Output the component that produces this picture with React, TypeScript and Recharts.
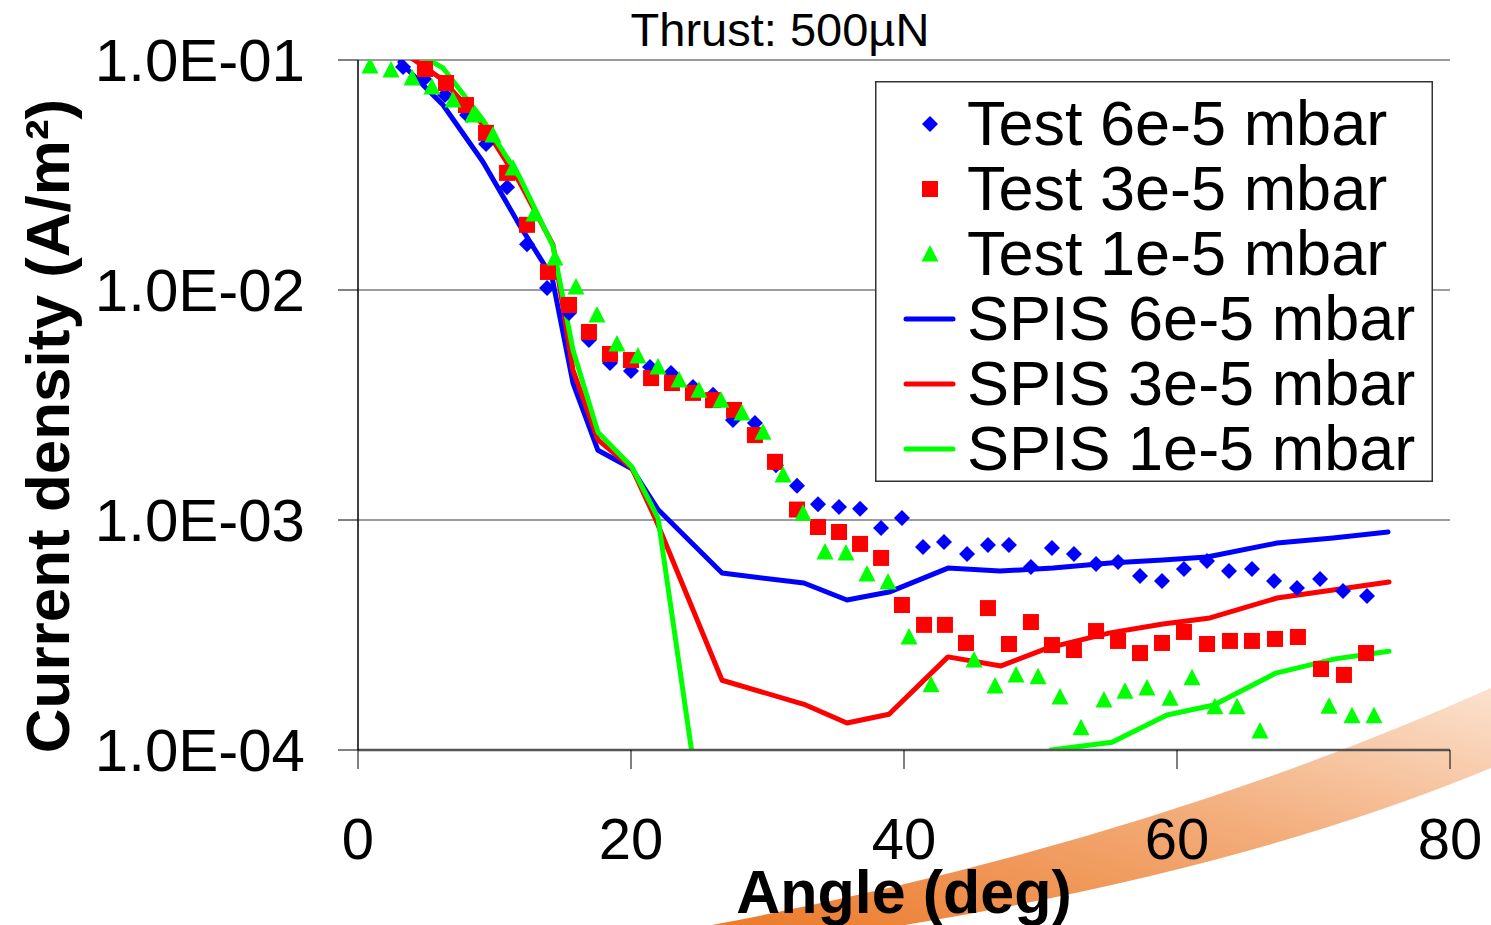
import React from 'react';
import { ComposedChart, Line, Scatter, XAxis, YAxis, CartesianGrid, ReferenceLine, Legend, Label } from 'recharts';

const FONT = '"Liberation Sans", Arial, Helvetica, sans-serif';

const BLUE = '#0000FF';
const RED = '#FF0000';
const GREEN = '#00FF00';

const xTicks = [0, 20, 40, 60, 80];
const yTicks = [1e-4, 1e-3, 1e-2, 1e-1];

// measured points, angle (deg) vs current density (A/m2)
const test6e5 = [
  { x: 3.3, y: 0.0932 }, { x: 4.84, y: 0.0827 }, { x: 6.37, y: 0.0704 }, { x: 7.99, y: 0.0577 },
  { x: 9.38, y: 0.0431 }, { x: 10.92, y: 0.028 }, { x: 12.38, y: 0.0158 }, { x: 13.85, y: 0.0102 },
  { x: 15.46, y: 0.00794 }, { x: 16.92, y: 0.00606 }, { x: 18.46, y: 0.00482 }, { x: 20.0, y: 0.00444 },
  { x: 21.39, y: 0.00463 }, { x: 22.93, y: 0.00436 }, { x: 24.54, y: 0.00379 }, { x: 26.01, y: 0.0035 },
  { x: 27.47, y: 0.00272 }, { x: 29.08, y: 0.00264 }, { x: 30.62, y: 0.00173 }, { x: 32.16, y: 0.00141 },
  { x: 33.7, y: 0.00117 }, { x: 35.24, y: 0.00114 }, { x: 36.78, y: 0.00112 }, { x: 38.32, y: 0.000923 },
  { x: 39.85, y: 0.00102 }, { x: 41.39, y: 0.000763 }, { x: 42.93, y: 0.000802 }, { x: 44.62, y: 0.000712 },
  { x: 46.15, y: 0.000778 }, { x: 47.69, y: 0.000778 }, { x: 49.3, y: 0.000625 }, { x: 50.84, y: 0.000755 },
  { x: 52.45, y: 0.000712 }, { x: 54.07, y: 0.000644 }, { x: 55.68, y: 0.000657 }, { x: 57.29, y: 0.000571 },
  { x: 58.9, y: 0.000543 }, { x: 60.51, y: 0.000612 }, { x: 62.2, y: 0.000663 }, { x: 63.81, y: 0.0006 },
  { x: 65.49, y: 0.000612 }, { x: 67.11, y: 0.000543 }, { x: 68.79, y: 0.000506 }, { x: 70.48, y: 0.000554 },
  { x: 72.16, y: 0.000491 }, { x: 73.92, y: 0.000467 },
];

const test3e5 = [
  { x: 4.91, y: 0.0914 }, { x: 6.45, y: 0.0794 }, { x: 7.91, y: 0.0637 }, { x: 9.38, y: 0.0482 },
  { x: 10.92, y: 0.0323 }, { x: 12.38, y: 0.0192 }, { x: 13.92, y: 0.01198 }, { x: 15.46, y: 0.00861 },
  { x: 16.92, y: 0.00657 }, { x: 18.46, y: 0.00527 }, { x: 20.0, y: 0.00496 }, { x: 21.47, y: 0.00414 },
  { x: 23.0, y: 0.00394 }, { x: 24.54, y: 0.00357 }, { x: 26.01, y: 0.00332 }, { x: 27.55, y: 0.00301 },
  { x: 29.08, y: 0.00234 }, { x: 30.55, y: 0.00179 }, { x: 32.16, y: 0.00111 }, { x: 33.7, y: 0.000932 },
  { x: 35.24, y: 0.000887 }, { x: 36.78, y: 0.000787 }, { x: 38.32, y: 0.000684 }, { x: 39.85, y: 0.000427 },
  { x: 41.47, y: 0.00035 }, { x: 43.0, y: 0.00035 }, { x: 44.54, y: 0.000292 }, { x: 46.15, y: 0.000414 },
  { x: 47.69, y: 0.000289 }, { x: 49.3, y: 0.00036 }, { x: 50.84, y: 0.000286 }, { x: 52.45, y: 0.000272 },
  { x: 54.07, y: 0.000329 }, { x: 55.68, y: 0.000298 }, { x: 57.29, y: 0.000264 }, { x: 58.9, y: 0.000292 },
  { x: 60.51, y: 0.000326 }, { x: 62.2, y: 0.000289 }, { x: 63.88, y: 0.000298 }, { x: 65.49, y: 0.000298 },
  { x: 67.18, y: 0.000304 }, { x: 68.86, y: 0.00031 }, { x: 70.55, y: 0.000225 }, { x: 72.23, y: 0.000212 },
  { x: 73.85, y: 0.000264 },
];

const test1e5 = [
  { x: 0.88, y: 0.0942 }, { x: 2.42, y: 0.0905 }, { x: 3.96, y: 0.0835 }, { x: 5.42, y: 0.0763 },
  { x: 6.96, y: 0.067 }, { x: 8.42, y: 0.0577 }, { x: 9.89, y: 0.0472 }, { x: 11.36, y: 0.0339 },
  { x: 12.89, y: 0.0214 }, { x: 14.43, y: 0.01377 }, { x: 15.97, y: 0.0103 }, { x: 17.51, y: 0.00778 },
  { x: 18.97, y: 0.00582 }, { x: 20.51, y: 0.00516 }, { x: 21.98, y: 0.00463 }, { x: 23.52, y: 0.00406 },
  { x: 24.98, y: 0.00367 }, { x: 26.59, y: 0.00332 }, { x: 28.13, y: 0.00292 }, { x: 29.67, y: 0.00241 },
  { x: 31.14, y: 0.00157 }, { x: 32.6, y: 0.00107 }, { x: 34.21, y: 0.000726 }, { x: 35.75, y: 0.000719 },
  { x: 37.29, y: 0.000582 }, { x: 38.83, y: 0.000538 }, { x: 40.37, y: 0.00031 }, { x: 41.98, y: 0.000192 },
  { x: 45.13, y: 0.000246 }, { x: 46.67, y: 0.00019 }, { x: 48.21, y: 0.000212 }, { x: 49.82, y: 0.000208 },
  { x: 51.43, y: 0.00017 }, { x: 52.97, y: 0.000125 }, { x: 54.65, y: 0.000165 }, { x: 56.19, y: 0.00018 },
  { x: 57.8, y: 0.000186 }, { x: 59.49, y: 0.000168 }, { x: 61.1, y: 0.000206 }, { x: 62.78, y: 0.000154 },
  { x: 64.4, y: 0.000154 }, { x: 66.08, y: 0.000121 }, { x: 71.14, y: 0.000155 }, { x: 72.82, y: 0.000141 },
  { x: 74.43, y: 0.000141 },
];

// simulation curves
const spis6e5 = [
  { x: 3.08, y: 0.098 }, { x: 6.23, y: 0.0637 }, { x: 9.16, y: 0.036 }, { x: 11.87, y: 0.019 },
  { x: 14.21, y: 0.01139 }, { x: 15.75, y: 0.00394 }, { x: 17.58, y: 0.00201 }, { x: 20.07, y: 0.00167 },
  { x: 21.98, y: 0.00111 }, { x: 26.67, y: 0.000588 }, { x: 32.67, y: 0.000532 }, { x: 35.82, y: 0.000449 },
  { x: 38.9, y: 0.000486 }, { x: 43.22, y: 0.000618 }, { x: 47.03, y: 0.0006 }, { x: 50.92, y: 0.000618 },
  { x: 55.09, y: 0.00065 }, { x: 58.97, y: 0.00067 }, { x: 62.2, y: 0.00069 }, { x: 67.33, y: 0.000794 },
  { x: 71.43, y: 0.000835 }, { x: 75.46, y: 0.000887 },
];

const spis3e5 = [
  { x: 3.08, y: 0.1105 }, { x: 6.23, y: 0.0818 }, { x: 9.16, y: 0.0522 }, { x: 11.87, y: 0.0292 },
  { x: 14.29, y: 0.0157 }, { x: 15.75, y: 0.00449 }, { x: 17.58, y: 0.00223 }, { x: 20.07, y: 0.00168 },
  { x: 21.83, y: 0.001 }, { x: 26.67, y: 0.000201 }, { x: 32.67, y: 0.000158 }, { x: 35.82, y: 0.000131 },
  { x: 38.9, y: 0.000143 }, { x: 43.22, y: 0.000254 }, { x: 47.11, y: 0.000232 }, { x: 50.55, y: 0.000278 },
  { x: 55.09, y: 0.000323 }, { x: 58.97, y: 0.000353 }, { x: 62.42, y: 0.000375 }, { x: 67.33, y: 0.000458 },
  { x: 71.43, y: 0.000496 }, { x: 75.53, y: 0.000538 },
];

const spis1e5 = [
  { x: 3.08, y: 0.118 }, { x: 6.23, y: 0.0923 }, { x: 9.16, y: 0.0548 }, { x: 11.87, y: 0.0307 },
  { x: 14.29, y: 0.0155 }, { x: 15.75, y: 0.00548 }, { x: 17.58, y: 0.00241 }, { x: 20.07, y: 0.0017 },
  { x: 21.98, y: 0.00102 }, { x: 26.67, y: 0.000012 }, { x: 32.67, y: 0.00001 }, { x: 35.82, y: 0.00001 },
  { x: 38.9, y: 0.00001 }, { x: 43.22, y: 0.00001 }, { x: 47.03, y: 0.00001 }, { x: 50.77, y: 0.0001 },
  { x: 55.24, y: 0.000108 }, { x: 59.27, y: 0.000142 }, { x: 62.71, y: 0.000157 }, { x: 67.25, y: 0.000216 },
  { x: 71.58, y: 0.000249 }, { x: 75.53, y: 0.000269 },
];

const legendItems = [
  { name: 'Test 6e-5 mbar', color: BLUE, kind: 'diamond' },
  { name: 'Test 3e-5 mbar', color: RED, kind: 'square' },
  { name: 'Test 1e-5 mbar', color: GREEN, kind: 'triangle' },
  { name: 'SPIS 6e-5 mbar', color: BLUE, kind: 'line' },
  { name: 'SPIS 3e-5 mbar', color: RED, kind: 'line' },
  { name: 'SPIS 1e-5 mbar', color: GREEN, kind: 'line' },
];

const sci = (v: number) => {
  const e = Math.round(Math.log10(v));
  const m = v / Math.pow(10, e);
  return `${m.toFixed(1)}E${e < 0 ? '-' : '+'}${String(Math.abs(e)).padStart(2, '0')}`;
};

function marker(kind: string, cx: number, cy: number, color: string) {
  if (kind === 'diamond') {
    return <polygon points={`${cx},${cy - 8} ${cx + 8},${cy} ${cx},${cy + 8} ${cx - 8},${cy}`} fill={color} />;
  }
  if (kind === 'square') {
    return <rect x={cx - 8} y={cy - 8} width={16} height={16} fill={color} />;
  }
  return <polygon points={`${cx},${cy - 9} ${cx + 8.5},${cy + 7.5} ${cx - 8.5},${cy + 7.5}`} fill={color} />;
}

const YTick = (props: any) => (
  <text x={props.x} y={props.y} dy={21} textAnchor="end" fontSize={60} fontFamily={FONT} fill="#000">
    {sci(props.payload.value)}
  </text>
);

const XTick = (props: any) => (
  <text x={props.x} y={props.y} dy={88} textAnchor="middle" fontSize={58} fontFamily={FONT} fill="#000">
    {props.payload.value}
  </text>
);

const LegendBox = () => (
  <svg width={558} height={401} style={{ display: 'block' }}>
    <rect x={0.75} y={0.75} width={556.5} height={399.5} fill="#fff" stroke="#333" strokeWidth={1.5} />
    {legendItems.map((it, i) => {
      const cy = 43 + i * 65;
      return (
        <g key={it.name}>
          {it.kind === 'line' ? (
            <line x1={31} x2={78} y1={cy} y2={cy} stroke={it.color} strokeWidth={5} strokeLinecap="round" />
          ) : (
            marker(it.kind, 55, cy, it.color)
          )}
          <text x={92} y={cy + 21} fontSize={63} fontFamily={FONT} fill="#000">{it.name}</text>
        </g>
      );
    })}
  </svg>
);

export default function App() {
  return (
    <div style={{ position: 'absolute', left: 0, top: 0, width: 1491, height: 925, background: '#fff', overflow: 'hidden' }}>
      <svg width={1491} height={925} style={{ position: 'absolute', left: 0, top: 0 }}>
        <defs>
          <linearGradient id="swoosh" x1="0" y1="1" x2="1" y2="0">
            <stop offset="0%" stopColor="#EC7A2A" />
            <stop offset="55%" stopColor="#F3AD7B" />
            <stop offset="100%" stopColor="#FBE2CF" />
          </linearGradient>
        </defs>
        <path d="M 712 925 Q 1140 845 1491 688 L 1491 768 Q 1250 868 905 925 Z" fill="url(#swoosh)" />
        <text x={780} y={46} textAnchor="middle" fontSize={47} fontFamily={FONT} fill="#000">Thrust: 500µN</text>
      </svg>
      <div style={{ position: 'absolute', left: 0, top: 0 }}>
        <ComposedChart width={1491} height={925} margin={{ top: 60, right: 41, bottom: 0, left: 0 }}>
          <CartesianGrid horizontal vertical={false} stroke="#3a3a3a" strokeWidth={1.2} />
          <XAxis
            type="number"
            dataKey="x"
            domain={[0, 80]}
            ticks={xTicks}
            height={175}
            tickSize={19}
            tickMargin={2}
            tick={<XTick />}
            axisLine={{ stroke: '#555', strokeWidth: 2.5 }}
            tickLine={{ stroke: '#000', strokeWidth: 1 }}
          >
            <Label
              content={() => (
                <text x={904} y={913} textAnchor="middle" fontSize={61} fontWeight="bold" fontFamily={FONT} fill="#000">
                  Angle (deg)
                </text>
              )}
            />
          </XAxis>
          <YAxis
            type="number"
            dataKey="y"
            scale="log"
            domain={[1e-4, 1e-1]}
            ticks={yTicks}
            allowDataOverflow
            width={358}
            tickSize={20}
            tickMargin={33}
            tick={<YTick />}
            axisLine={{ stroke: '#000', strokeWidth: 1.5 }}
            tickLine={{ stroke: '#000', strokeWidth: 1 }}
          >
            <Label
              content={() => (
                <text
                  x={47}
                  y={426}
                  transform="rotate(-90 47 426)"
                  textAnchor="middle"
                  dominantBaseline="central"
                  fontSize={62}
                  fontWeight="bold"
                  fontFamily={FONT}
                  fill="#000"
                >
                  Current density (A/m²)
                </text>
              )}
            />
          </YAxis>
          <ReferenceLine y={0.1} stroke="#999" strokeWidth={2} />
          <Line data={spis6e5} dataKey="y" stroke={BLUE} strokeWidth={5} dot={false} strokeLinejoin="round" strokeLinecap="round" isAnimationActive={false} legendType="none" />
          <Line data={spis3e5} dataKey="y" stroke={RED} strokeWidth={5} dot={false} strokeLinejoin="round" strokeLinecap="round" isAnimationActive={false} legendType="none" />
          <Line data={spis1e5} dataKey="y" stroke={GREEN} strokeWidth={5} dot={false} strokeLinejoin="round" strokeLinecap="round" isAnimationActive={false} legendType="none" />
          <Scatter data={test6e5} fill={BLUE} shape={(p: any) => marker('diamond', p.cx, p.cy, BLUE)} isAnimationActive={false} />
          <Scatter data={test3e5} fill={RED} shape={(p: any) => marker('square', p.cx, p.cy, RED)} isAnimationActive={false} />
          <Scatter data={test1e5} fill={GREEN} shape={(p: any) => marker('triangle', p.cx, p.cy, GREEN)} isAnimationActive={false} />
          <Legend
            layout="vertical"
            verticalAlign="middle"
            align="center"
            wrapperStyle={{ left: 875, top: 81, width: 558, height: 401 }}
            content={() => <LegendBox />}
          />
        </ComposedChart>
      </div>
    </div>
  );
}
